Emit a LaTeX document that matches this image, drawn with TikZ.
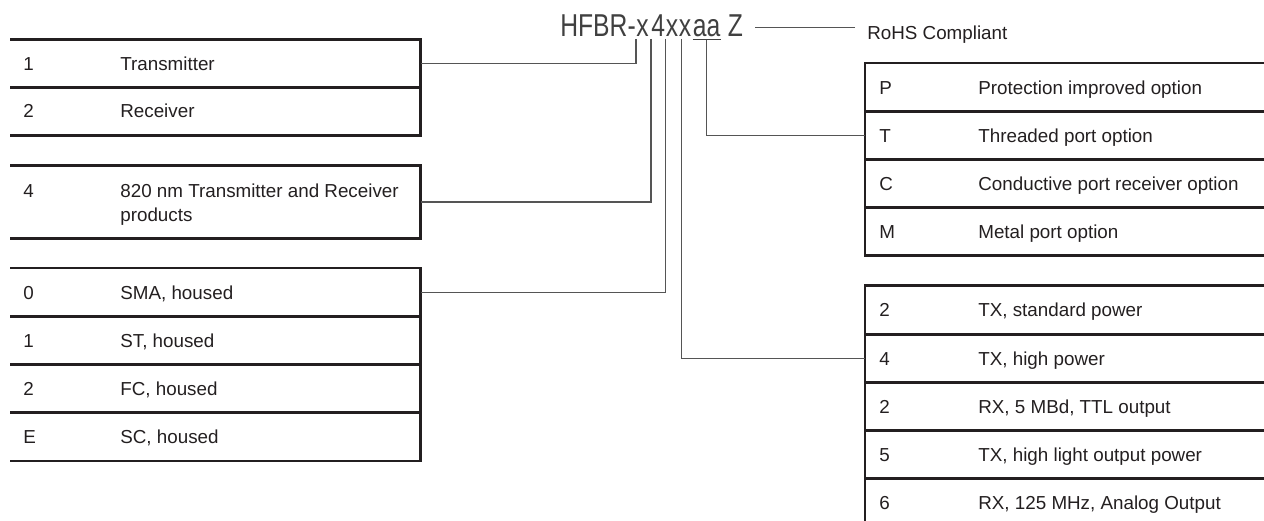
\documentclass[tikz,border=0pt]{standalone}
\usepackage{fontspec}
\setmainfont{Liberation Sans}
\newfontfamily\partfont{Liberation Sans}[FakeStretch=0.78]
\usetikzlibrary{positioning}
\definecolor{linecol}{HTML}{231F20}
\definecolor{conncol}{HTML}{555555}
\definecolor{partcol}{HTML}{404040}
\tikzset{
	tbl/.style={draw=linecol, line width=0.5mm, line cap=rect},
	conn/.style={draw=conncol, line width=0.26mm},
	lrow/.style={minimum width=81.8mm, inner sep=0, anchor=west},
	rrow/.style={minimum width=81mm, inner sep=0, anchor=west},
	txt/.style={font=\fontsize{10.7}{13.7}\selectfont, text=linecol, anchor=base west, inner sep=0, align=left},
	part/.style={font=\partfont\fontsize{18}{20}\selectfont, text=partcol, anchor=base west, inner xsep=0, inner ysep=1.5pt}
}
\begin{document}
\begin{tikzpicture}[x=0.2mm, y=-0.2mm]
		
		\useasboundingbox (0,0) rectangle (1264,520);
		\clip (0,0) rectangle (1264,520);
		
		% part number
		\node[part] (hfbr) at (560,36) {HFBR-};
		\node[part] (px1) at (hfbr.base east) {x};
		\node[part] (p4) at ([xshift=0.4mm]px1.base east) {4};
		\node[part] (px2) at (p4.base east) {x};
		\node[part] (px3) at (px2.base east) {x};
		\node[part] (paa) at ([xshift=0.2mm]px3.base east) {aa};
		\node[part] (pz) at (paa.base east) {\ Z};
		\node[txt] (rohs) at (867,39.3) {RoHS Compliant};
		
		% left tables
		\foreach \cd/\ds [count=\i] in {1/Transmitter, 2/Receiver}{
			\node[lrow, minimum height=9.5mm] (a\i) at (11,16.25+47.5*\i) {};
			\draw[tbl] (a\i.north west) -- (a\i.north east) -- (a\i.south east) -- (a\i.south west);
			\node[txt] (a\i-k) at ([shift={(12,6.7)}]a\i.west) {\cd};
			\node[txt] (a\i-t) at ([shift={(109,6.7)}]a\i.west) {\ds};
		}
		\node[lrow, minimum height=14.4mm] (b1) at (11,202) {};
		\draw[tbl] (b1.north west) -- (b1.north east) -- (b1.south east) -- (b1.south west);
		\node[txt] (b1-k) at ([shift={(12,-4.6)}]b1.west) {4};
		\node[txt] (b1-t) at ([shift={(109,19.7)}]b1.west) {820 nm Transmitter and Receiver\\products};
		\foreach \cd/\ds [count=\i] in {0/{SMA, housed}, 1/{ST, housed}, 2/{FC, housed}, E/{SC, housed}}{
			\node[lrow, minimum height=9.62mm] (c\i) at (11,244.25+48.1*\i) {};
			\draw[tbl] (c\i.north west) -- (c\i.north east) -- (c\i.south east) -- (c\i.south west);
			\node[txt] (c\i-k) at ([shift={(12,6.7)}]c\i.west) {\cd};
			\node[txt] (c\i-t) at ([shift={(109,6.7)}]c\i.west) {\ds};
		}
		
		% right tables
		\foreach \cd/\ds [count=\i] in {P/Protection improved option, T/Threaded port option, C/Conductive port receiver option, M/Metal port option}{
			\node[rrow, minimum height=9.6mm] (d\i) at (865,39.3+48*\i) {};
			\draw[tbl] (d\i.north east) -- (d\i.north west) -- (d\i.south west) -- (d\i.south east);
			\node[txt] (d\i-k) at ([shift={(14,6.7)}]d\i.west) {\cd};
			\node[txt] (d\i-t) at ([shift={(113,6.7)}]d\i.west) {\ds};
		}
		\foreach \cd/\ds [count=\i] in {2/{TX, standard power}, 4/{TX, high power}, 2/{RX, 5 MBd, TTL output}, 5/{TX, high light output power}, 6/{RX, 125 MHz, Analog Output}}{
			\node[rrow, minimum height=9.64mm] (e\i) at (865,261.9+48.2*\i) {};
			\draw[tbl] (e\i.north east) -- (e\i.north west) -- (e\i.south west) -- (e\i.south east);
			\node[txt] (e\i-k) at ([shift={(14,6.7)}]e\i.west) {\cd};
			\node[txt] (e\i-t) at ([shift={(113,6.7)}]e\i.west) {\ds};
		}
		
		% connectors
		\draw[conn] (px1.south west) |- (a1.east);
		\draw[conn] (p4.south west) |- (b1.east);
		\draw[conn] (px2.south west) |- (c1.east);
		\draw[conn] ([xshift=0.6mm]px3.south west) |- (e2.west);
		\draw[conn] (paa.south) |- (d2.west);
		\draw[conn, draw=partcol] (paa.south west) -- (paa.south east);
		\coordinate (rz) at ([shift={(-12,-11.6)}]rohs.base west);
		\path (pz.east |- rz) coordinate (zr);
		\draw[conn] (rz) -- ([xshift=2.4mm]zr);
		
	\end{tikzpicture}
\end{document}
